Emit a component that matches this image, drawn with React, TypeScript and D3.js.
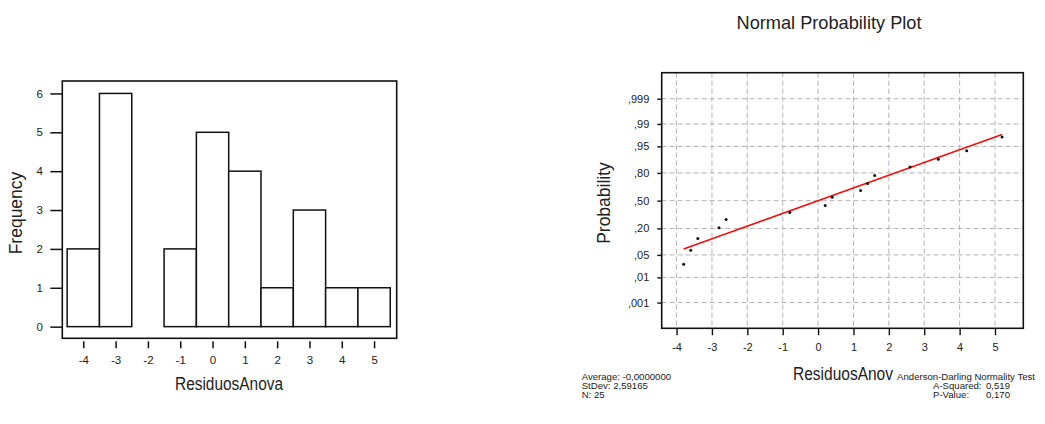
import React, { Component } from 'react';
import * as d3 from 'd3';

// histogram of the residuals
const binCenters = [-4, -3, -2, -1, 0, 1, 2, 3, 4, 5];
const binCounts = [2, 6, 0, 2, 5, 4, 1, 3, 1, 1];
const freqTicks = [0, 1, 2, 3, 4, 5, 6];

// normal probability plot points (residual, plotted probability)
const probX = [-3.8, -3.6, -3.4, -2.8, -2.6, -0.8, 0.2, 0.4, 1.2, 1.4, 1.6, 2.6, 3.4, 4.2, 5.2];
const probP = [0.027, 0.066, 0.126, 0.206, 0.284, 0.36, 0.442, 0.54, 0.62, 0.698, 0.777, 0.846, 0.895, 0.935, 0.973];
const probTicks = [0.001, 0.01, 0.05, 0.2, 0.5, 0.8, 0.95, 0.99, 0.999];
const probTickLabels = [',001', ',01', ',05', ',20', ',50', ',80', ',95', ',99', ',999'];
const residTicks = [-4, -3, -2, -1, 0, 1, 2, 3, 4, 5];

const statMean = 0;
const statSd = 2.59165;
const statsLeft = ['Average: -0,0000000', 'StDev: 2,59165', 'N: 25'];
const adTitle = 'Anderson-Darling Normality Test';
const adLines = [['A-Squared:', '0,519'], ['P-Value:', '0,170']];

const FONT = '"Liberation Sans", Arial, sans-serif';

// inverse normal cdf (Acklam)
function probit(p: number) {
  const a = [-39.69683028665376, 220.9460984245205, -275.9285104469687, 138.357751867269, -30.66479806614716, 2.506628277459239];
  const b = [-54.47609879822406, 161.5858368580409, -155.6989798598866, 66.80131188771972, -13.28068155288572];
  const c = [-0.007784894002430293, -0.3223964580411365, -2.400758277161838, -2.549732539343734, 4.374664141464968, 2.938163982698783];
  const d = [0.007784695709041462, 0.3224671290700398, 2.445134137142996, 3.754408661907416];
  const pl = 0.02425;
  if (p < pl) {
    const q = Math.sqrt(-2 * Math.log(p));
    return (((((c[0] * q + c[1]) * q + c[2]) * q + c[3]) * q + c[4]) * q + c[5]) / ((((d[0] * q + d[1]) * q + d[2]) * q + d[3]) * q + 1);
  }
  if (p > 1 - pl) {
    const q = Math.sqrt(-2 * Math.log(1 - p));
    return -(((((c[0] * q + c[1]) * q + c[2]) * q + c[3]) * q + c[4]) * q + c[5]) / ((((d[0] * q + d[1]) * q + d[2]) * q + d[3]) * q + 1);
  }
  const q = p - 0.5;
  const r = q * q;
  return (((((a[0] * r + a[1]) * r + a[2]) * r + a[3]) * r + a[4]) * r + a[5]) * q / (((((b[0] * r + b[1]) * r + b[2]) * r + b[3]) * r + b[4]) * r + 1);
}

// plain hyphen minus, like the original
const intLabel = (d: any) => String(d);

class App extends Component {
  ref = React.createRef<SVGSVGElement>();

  componentDidMount() {
    this.drawChart();
  }

  drawChart() {
    const svg = d3.select(this.ref.current);
    svg.selectAll('*').remove();
    svg.style('font-family', FONT);

    // ---------- histogram ----------
    const hf = { left: 62.3, top: 81, right: 396.7, bottom: 338.3 };
    const hx = d3.scaleLinear().domain([-4.65, 5.7]).range([hf.left, hf.right]);
    const hy = d3.scaleLinear().domain([-0.3, 6.32]).range([hf.bottom, hf.top]);

    const hist = svg.append('g');

    hist.selectAll('rect.bar')
      .data(binCenters)
      .enter()
      .append('rect')
      .attr('class', 'bar')
      .attr('x', d => hx(d - 0.5))
      .attr('width', d => hx(d + 0.5) - hx(d - 0.5))
      .attr('y', (d, i) => hy(binCounts[i]))
      .attr('height', (d, i) => hy(0) - hy(binCounts[i]))
      .attr('fill', 'white')
      .attr('stroke', '#111')
      .attr('stroke-width', 1.5);

    hist.append('rect')
      .attr('x', hf.left).attr('y', hf.top)
      .attr('width', hf.right - hf.left).attr('height', hf.bottom - hf.top)
      .attr('fill', 'none').attr('stroke', '#111').attr('stroke-width', 1.6);

    const hxAxis = hist.append('g')
      .attr('transform', `translate(0, ${hf.bottom + 3})`)
      .call(d3.axisBottom(hx).tickValues(binCenters).tickSize(7).tickPadding(7.8).tickFormat(intLabel));
    const hyAxis = hist.append('g')
      .attr('transform', `translate(${hf.left}, 0)`)
      .call(d3.axisLeft(hy).tickValues(freqTicks).tickSize(12).tickPadding(7.3).tickFormat(intLabel));

    [hxAxis, hyAxis].forEach(a => {
      a.select('.domain').remove();
      a.attr('font-family', null).attr('font-size', null);
      a.selectAll('line').attr('stroke', '#111').attr('stroke-width', 1.5);
      a.selectAll('text').attr('font-size', 11.5).attr('font-family', FONT).attr('fill', '#222');
    });

    hist.append('text')
      .attr('x', 229).attr('y', 390)
      .attr('text-anchor', 'middle')
      .attr('font-size', 17.5)
      .attr('textLength', 108).attr('lengthAdjust', 'spacingAndGlyphs')
      .attr('fill', '#222')
      .text('ResiduosAnova');

    hist.append('text')
      .attr('transform', 'translate(22, 213) rotate(-90)')
      .attr('text-anchor', 'middle')
      .attr('font-size', 17.5)
      .attr('fill', '#222')
      .text('Frequency');

    // ---------- normal probability plot ----------
    const pf = { left: 661.7, top: 72.7, right: 1023.3, bottom: 328.3 };
    const px = d3.scaleLinear().domain([-4.42, 5.8]).range([pf.left, pf.right]);
    const pz = d3.scaleLinear().domain([-3.87, 3.88]).range([pf.bottom, pf.top]);
    const py = (p: number) => pz(probit(p));

    const prob = svg.append('g');

    prob.append('text')
      .attr('x', 829).attr('y', 29)
      .attr('text-anchor', 'middle')
      .attr('font-size', 18.6)
      .attr('textLength', 185).attr('lengthAdjust', 'spacingAndGlyphs')
      .attr('fill', '#222')
      .text('Normal Probability Plot');

    const grid = prob.append('g')
      .attr('stroke', '#b4b4b4')
      .attr('stroke-width', 1)
      .attr('stroke-dasharray', '5,3');

    grid.selectAll('line.vg')
      .data(residTicks)
      .enter()
      .append('line')
      .attr('class', 'vg')
      .attr('x1', d => px(d)).attr('x2', d => px(d))
      .attr('y1', pf.top).attr('y2', pf.bottom);

    grid.selectAll('line.hg')
      .data(probTicks)
      .enter()
      .append('line')
      .attr('class', 'hg')
      .attr('x1', pf.left).attr('x2', pf.right)
      .attr('y1', d => py(d)).attr('y2', d => py(d));

    // fitted line
    const fitX = d3.extent(probX) as [number, number];
    prob.append('line')
      .attr('x1', px(fitX[0])).attr('y1', pz((fitX[0] - statMean) / statSd))
      .attr('x2', px(fitX[1])).attr('y2', pz((fitX[1] - statMean) / statSd))
      .attr('stroke', '#f01010')
      .attr('stroke-width', 1.6);

    prob.selectAll('circle')
      .data(probX)
      .enter()
      .append('circle')
      .attr('cx', d => px(d))
      .attr('cy', (d, i) => py(probP[i]))
      .attr('r', 1.5)
      .attr('fill', '#111');

    prob.append('rect')
      .attr('x', pf.left).attr('y', pf.top)
      .attr('width', pf.right - pf.left).attr('height', pf.bottom - pf.top)
      .attr('fill', 'none').attr('stroke', '#111').attr('stroke-width', 1.6);

    const pxAxis = prob.append('g')
      .attr('transform', `translate(0, ${pf.bottom})`)
      .call(d3.axisBottom(px).tickValues(residTicks).tickSize(7).tickPadding(7.6).tickFormat(intLabel));
    const pyAxis = prob.append('g')
      .attr('transform', `translate(${pf.left}, 0)`)
      .call(d3.axisLeft(d3.scaleLinear().domain(pz.domain()).range(pz.range()))
        .tickValues(probTicks.map(probit))
        .tickSize(4.4).tickPadding(8)
        .tickFormat((d, i) => probTickLabels[i]));

    [pxAxis, pyAxis].forEach(a => {
      a.select('.domain').remove();
      a.attr('font-family', null).attr('font-size', null);
      a.selectAll('line').attr('stroke', '#111').attr('stroke-width', 1.4);
      a.selectAll('text').attr('font-size', 11).attr('font-family', FONT).attr('fill', '#222');
    });

    prob.append('text')
      .attr('x', 843).attr('y', 380)
      .attr('text-anchor', 'middle')
      .attr('font-size', 17.5)
      .attr('textLength', 100).attr('lengthAdjust', 'spacingAndGlyphs')
      .attr('fill', '#222')
      .text('ResiduosAnov');

    prob.append('text')
      .attr('transform', 'translate(610, 203) rotate(-90)')
      .attr('text-anchor', 'middle')
      .attr('font-size', 17.5)
      .attr('fill', '#222')
      .text('Probability');

    // stats footer
    const foot = prob.append('g').attr('font-size', 9.6).attr('fill', '#222');
    foot.selectAll('text.left')
      .data(statsLeft)
      .enter()
      .append('text')
      .attr('class', 'left')
      .attr('x', 581.7)
      .attr('y', (d, i) => 379.5 + i * 9)
      .text(d => d);

    foot.append('text')
      .attr('x', 1035).attr('y', 379.5)
      .attr('text-anchor', 'end')
      .text(adTitle);

    adLines.forEach((l, i) => {
      foot.append('text')
        .attr('x', 933).attr('y', 388.5 + i * 9)
        .text(l[0]);
      foot.append('text')
        .attr('x', 1010).attr('y', 388.5 + i * 9)
        .attr('text-anchor', 'end')
        .text(l[1]);
    });
  }

  render() {
    return (
      <svg ref={this.ref} width={1045} height={424}
        style={{ position: 'absolute', left: 0, top: 0, background: 'white' }} />
    );
  }
}

export default App;
